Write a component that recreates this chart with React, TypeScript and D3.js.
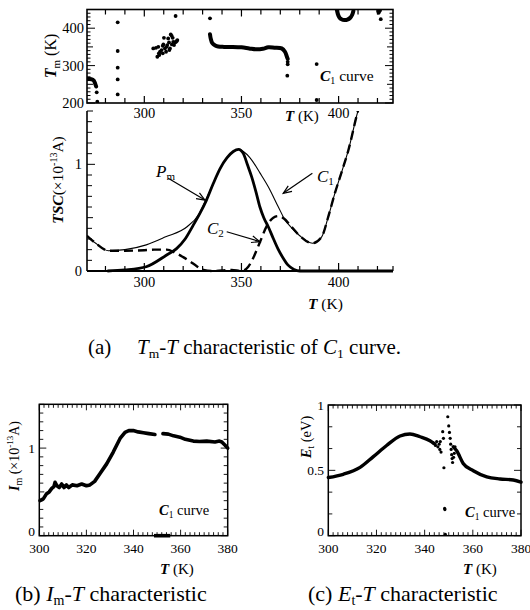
import React from "react";
import * as d3 from "d3";

// ---------- Panel (a) bottom: TSC curves ----------
const c1T = [270.5, 275, 281.5, 290, 301, 311, 322, 328, 331, 335.5, 339, 342.5, 345.8, 348.5, 351, 355.3, 359.5, 363.8, 369, 372.4, 375, 380, 386.5, 391.3, 394.7, 398.1, 401.6, 405, 409.8, 412];
const c1V = [0.33, 0.26, 0.19, 0.2, 0.245, 0.32, 0.415, 0.53, 0.64, 0.82, 0.96, 1.06, 1.12, 1.14, 1.12, 1.04, 0.92, 0.79, 0.6, 0.48, 0.42, 0.33, 0.26, 0.32, 0.51, 0.73, 0.93, 1.13, 1.49, 1.62];
const c2T = [270.5, 275, 281.5, 290, 300, 305, 311.5, 316, 320, 323.5, 327, 330.4, 335, 340, 345, 350, 353.5, 356, 359.5, 363, 366.4, 369, 372, 375, 380, 386.5, 391.3, 394.7, 398.1, 401.6, 405, 409.8, 412];
const c2V = [0.33, 0.26, 0.19, 0.19, 0.195, 0.2, 0.2, 0.17, 0.13, 0.09, 0.045, 0.01, 0.0, 0.005, 0.01, 0.0, 0.04, 0.12, 0.27, 0.42, 0.5, 0.515, 0.49, 0.43, 0.33, 0.26, 0.32, 0.51, 0.73, 0.93, 1.13, 1.49, 1.62];
const pmT = [281, 290, 301, 311.5, 316.6, 321, 325.2, 328.6, 332, 335.5, 339, 342.5, 345.8, 348.5, 351, 353, 355.3, 357.5, 359.5, 361.5, 363.8, 366.5, 369, 371.5, 374, 377, 380, 428];
const pmV = [0.0, 0.01, 0.04, 0.15, 0.21, 0.3, 0.43, 0.54, 0.665, 0.82, 0.96, 1.06, 1.12, 1.14, 1.1, 1.0, 0.88, 0.74, 0.6, 0.5, 0.415, 0.3, 0.2, 0.12, 0.055, 0.015, 0.0, 0.0];

// ---------- Panel (a) top: Tm-T ----------
const hookT = [270.5, 272, 273.5, 274.5, 275.2];
const hookV = [264, 264, 262, 255, 244];
const midT = [333.8, 334.2, 335, 336.5, 338, 341, 345, 350, 354, 357.8, 361, 363.8, 367, 370.7, 372.4, 373.3, 373.8];
const midV = [384, 372, 360, 354, 351, 350, 350, 349, 346, 343.5, 345, 349, 348, 346, 337, 325, 318];
const arcT = [399, 399.6, 400.5, 401.5, 403, 404.5, 406, 407, 407.6];
const arcV = [452, 438, 428, 424, 422, 423, 428, 436, 446];
const dotT = [275.5, 275.8, 286.3, 286.3, 286.3, 286.3, 286.3,
  304.6, 306.0, 307.2, 307.7, 306.7, 308.1, 308.9, 309.5, 309.8, 310.1, 310.6, 311.2, 311.5, 311.8, 312.3, 312.7, 313.2, 313.6, 314.1, 314.2, 314.6, 314.9, 315.3, 315.8, 316.3, 316.7, 317, 312.9, 309.5, 307.5,
  316.1, 333.8, 373.8, 373.8, 373.6, 388.7, 388.7, 420.3, 420.8, 421.3, 420.6, 421.7];
const dotV = [228.6, 203.5, 415.7, 339, 294.5, 263, 223,
  346, 347.6, 350.3, 328.1, 323.6, 337, 341.5, 353, 356.6, 374.3, 346, 337, 350.3, 354.8, 372.7, 362, 346, 383.4, 379.7, 356.6, 374.3, 363.6, 354.8, 362, 363.6, 365.5, 368.2, 341.5, 332.7, 332.7,
  432.6, 426.5, 310, 303.5, 273, 304, 208, 446, 444, 447, 441, 424];

// ---------- Panel (b): Im-T ----------
const im1T = [300.3, 301.7, 303.1, 304.2, 305.3, 306.2, 306.7, 307.5, 308.5, 309.5, 310.5, 311.5, 312.5, 314, 316, 318, 320, 321.5, 323.5, 325.8, 328.6, 331.4, 334.3, 336.4, 338, 339.9, 342, 344.2, 346.5, 349.1];
const im1V = [0.40, 0.42, 0.48, 0.5, 0.54, 0.56, 0.61, 0.57, 0.55, 0.59, 0.55, 0.58, 0.55, 0.58, 0.57, 0.59, 0.57, 0.58, 0.62, 0.71, 0.82, 0.955, 1.11, 1.18, 1.2, 1.2, 1.185, 1.175, 1.165, 1.155];
const im2T = [352.5, 354.8, 357, 359.7, 362, 365.4, 368, 371.1, 374.6, 376.5, 377.5, 379, 380];
const im2V = [1.165, 1.16, 1.14, 1.125, 1.1, 1.08, 1.075, 1.08, 1.07, 1.08, 1.07, 1.03, 1.0];
const im0T = [348.7, 355.6];
const im0V = [0.0, 0.0];

// ---------- Panel (c): Et-T ----------
const et1T = [300, 306.2, 313.2, 318.7, 324.2, 329.8, 333.9, 338.1, 342.2, 344.3];
const et1V = [0.445, 0.47, 0.523, 0.605, 0.69, 0.763, 0.778, 0.757, 0.727, 0.70];
const et2T = [351.9, 353.3, 356, 360.2, 365.8, 371.3, 376.8, 380];
const et2V = [0.68, 0.65, 0.553, 0.497, 0.45, 0.434, 0.426, 0.41];
const etDotT = [343.5, 344.5, 345, 345.5, 346, 346.3, 346.8, 346.5, 347.5, 347.8, 348, 348.4, 348.3, 349.6, 350, 350.3, 350.6, 350.8, 351, 351.2, 351.4, 351.6, 352, 352.3, 352.6, 348.6];
const etDotV = [0.71, 0.69, 0.72, 0.68, 0.70, 0.66, 0.64, 0.72, 0.796, 0.745, 0.52, 0.2, 0.21, 0.91, 0.84, 0.79, 0.745, 0.70, 0.66, 0.62, 0.59, 0.56, 0.6, 0.63, 0.68, 0.01];

// tick values
const aXMajor = [300, 350, 400];
const aTopYMajor = [200, 300, 400];
const aBotYLabels = [0, 1];
const bXLabels = [300, 320, 340, 360, 380];
const bYLabels = [0, 1];
const cYLabels = [0, 0.5, 1];

const FONT = "Liberation Serif, Times New Roman, serif";

const xA = d3.scaleLinear().domain([270.5, 428]).range([87, 393]);
const yTop = d3.scaleLinear().domain([200, 450]).range([103, 9.5]);
const yBot = d3.scaleLinear().domain([0, 1.5]).range([271, 111]);
const xB = d3.scaleLinear().domain([300, 380]).range([39.3, 227.7]);
const yB = d3.scaleLinear().domain([0, 1.5]).range([535.7, 404.3]);
const xC = d3.scaleLinear().domain([300, 380]).range([328.3, 521]);
const yC = d3.scaleLinear().domain([0, 1]).range([535.7, 405]);

function pathOf(xs: number[], ys: number[], sx: any, sy: any, curve: any = d3.curveMonotoneX) {
  const pts = xs.map((t, i) => [t, ys[i]] as [number, number]);
  return d3.line<[number, number]>().x((d) => sx(d[0])).y((d) => sy(d[1])).curve(curve)(pts) || "";
}

function Arrow({ x1, y1, x2, y2 }: { x1: number; y1: number; x2: number; y2: number }) {
  const a = Math.atan2(y2 - y1, x2 - x1);
  const L = 9, w = 0.38;
  const p1 = [x2 - L * Math.cos(a - w), y2 - L * Math.sin(a - w)];
  const p2 = [x2 - L * Math.cos(a + w), y2 - L * Math.sin(a + w)];
  return (
    <g stroke="#000" strokeWidth={1.2} fill="none">
      <line x1={x1} y1={y1} x2={x2} y2={y2} />
      <polyline points={`${p1[0]},${p1[1]} ${x2},${y2} ${p2[0]},${p2[1]}`} />
    </g>
  );
}

export default function App() {
  const tickA = d3.range(280, 421, 10);
  const topYT = d3.range(200, 451, 10);
  const botYT = d3.range(0, 1.51, 0.1);
  const bXT = d3.range(300, 380.1, 2);
  const bYT = d3.range(0, 1.51, 0.1);
  const cYT = d3.range(0, 1.001, 1 / 6);

  const xl = 87, xr = 393;

  return (
    <svg width={530} height={610} style={{ position: "absolute", left: 0, top: 0, background: "#fff", fontFamily: FONT }} fontFamily={FONT}>
      <defs>
        <clipPath id="clipTop"><rect x={87} y={9.5} width={306} height={93.5} /></clipPath>
        <clipPath id="clipBot"><rect x={87} y={111} width={306} height={162} /></clipPath>
      </defs>
      <rect width={530} height={610} fill="#fff" />

      {/* ===== Top panel (Tm) ===== */}
      <rect x={xl} y={9.5} width={xr - xl} height={93.5} fill="none" stroke="#000" strokeWidth={1.6} />
      {tickA.map((t) => {
        const len = t % 50 === 0 ? 7 : 5;
        return (
          <g key={"ta" + t} stroke="#000" strokeWidth={1.2}>
            <line x1={xA(t)} x2={xA(t)} y1={103} y2={103 - len} />
            <line x1={xA(t)} x2={xA(t)} y1={9.5} y2={9.5 + len} />
          </g>
        );
      })}
      {topYT.map((v) => {
        const len = v % 100 === 0 ? 8 : v % 50 === 0 ? 6 : 3.5;
        return (
          <g key={"ty" + v} stroke="#000" strokeWidth={1}>
            <line x1={xl} x2={xl + len} y1={yTop(v)} y2={yTop(v)} />
            <line x1={xr} x2={xr - len} y1={yTop(v)} y2={yTop(v)} />
          </g>
        );
      })}
      {aTopYMajor.map((v) => (
        <text key={"tyl" + v} x={84} y={yTop(v) + 5} fontSize={14.5} textAnchor="end">{v}</text>
      ))}
      {aXMajor.map((t) => (
        <text key={"txl" + t} x={xA(t)} y={118} fontSize={14.5} textAnchor="middle">{t}</text>
      ))}
      <text x={285} y={121} fontSize={15}>
        <tspan fontWeight="bold" fontStyle="italic">T</tspan> (K)
      </text>
      <text transform="translate(56,56) rotate(-90)" fontSize={16} textAnchor="middle">
        <tspan fontWeight="bold" fontStyle="italic">T</tspan>
        <tspan fontSize={11} dy={4}>m</tspan>
        <tspan dy={-4}> (K)</tspan>
      </text>
      <g clipPath="url(#clipTop)">
        <path d={pathOf(hookT, hookV, xA, yTop)} fill="none" stroke="#000" strokeWidth={4} strokeLinecap="round" />
        <path d={pathOf(midT, midV, xA, yTop, d3.curveCatmullRom)} fill="none" stroke="#000" strokeWidth={4} strokeLinecap="round" />
        <path d={pathOf(arcT, arcV, xA, yTop, d3.curveCatmullRom)} fill="none" stroke="#000" strokeWidth={4} strokeLinecap="round" />
        {dotT.map((t, i) => (
          <circle key={"d" + i} cx={xA(t)} cy={yTop(dotV[i])} r={1.9} fill="#000" />
        ))}
      </g>
      <text x={320} y={81} fontSize={15.5}>
        <tspan fontWeight="bold" fontStyle="italic">C</tspan>
        <tspan fontSize={10} dy={3}>1</tspan>
        <tspan dy={-3}> curve</tspan>
      </text>

      {/* ===== Bottom panel (TSC) ===== */}
      <line x1={xl} x2={xl} y1={111} y2={271} stroke="#000" strokeWidth={1.6} />
      <line x1={xl} x2={xr} y1={271} y2={271} stroke="#000" strokeWidth={2} />
      {botYT.map((v, i) => {
        const len = i % 10 === 0 ? 8 : i % 5 === 0 ? 6 : 5;
        return <line key={"by" + i} x1={xl} x2={xl + len} y1={yBot(v)} y2={yBot(v)} stroke="#000" strokeWidth={1} />;
      })}
      {tickA.concat([428]).map((t) => {
        const len = t % 50 === 0 ? 8 : 5;
        return <line key={"bx" + t} x1={xA(t)} x2={xA(t)} y1={271} y2={271 - len} stroke="#000" strokeWidth={1.2} />;
      })}
      {aBotYLabels.map((v) => (
        <text key={"byl" + v} x={82} y={yBot(v) + 5} fontSize={14.5} textAnchor="end">{v}</text>
      ))}
      {aXMajor.map((t) => (
        <text key={"bxl" + t} x={xA(t)} y={287} fontSize={14.5} textAnchor="middle">{t}</text>
      ))}
      <text x={308} y={309} fontSize={15.5}>
        <tspan fontWeight="bold" fontStyle="italic">T</tspan> (K)
      </text>
      <text transform="translate(63,180) rotate(-90)" fontSize={15.5} textAnchor="middle">
        <tspan fontWeight="bold" fontStyle="italic">TSC</tspan>
        <tspan>(×10</tspan>
        <tspan fontSize={10} dy={-6}>-13</tspan>
        <tspan dy={6}>A)</tspan>
      </text>
      <g clipPath="url(#clipBot)">
        <path d={pathOf(c1T, c1V, xA, yBot)} fill="none" stroke="#000" strokeWidth={1.1} />
        <path d={pathOf(pmT, pmV, xA, yBot)} fill="none" stroke="#000" strokeWidth={2.8} />
        <path d={pathOf(c2T, c2V, xA, yBot)} fill="none" stroke="#000" strokeWidth={2.4} strokeDasharray="9,5" />
      </g>
      {/* annotations */}
      <text x={156} y={177} fontSize={17} fontStyle="italic">P<tspan fontSize={11} fontStyle="normal" dy={3}>m</tspan></text>
      <Arrow x1={xA(312.3)} y1={yBot(0.87)} x2={xA(331.2)} y2={yBot(0.665)} />
      <text x={207} y={234} fontSize={17} fontStyle="italic">C<tspan fontSize={11} fontStyle="normal" dy={3}>2</tspan></text>
      <Arrow x1={xA(342.4)} y1={yBot(0.368)} x2={xA(359.5)} y2={yBot(0.275)} />
      <text x={317} y={182} fontSize={17} fontStyle="italic">C<tspan fontSize={11} fontStyle="normal" dy={3}>1</tspan></text>
      <Arrow x1={xA(386.5)} y1={yBot(0.916)} x2={xA(371.5)} y2={yBot(0.728)} />

      {/* caption (a) */}
      <text x={88} y={354} fontSize={21}>(a)</text>
      <text x={137} y={354} fontSize={21}>
        <tspan fontStyle="italic">T</tspan>
        <tspan fontSize={13.5} dy={4}>m</tspan>
        <tspan dy={-4}>-</tspan>
        <tspan fontStyle="italic">T</tspan>
        <tspan> characteristic of </tspan>
        <tspan fontStyle="italic">C</tspan>
        <tspan fontSize={13.5} dy={4}>1</tspan>
        <tspan dy={-4}> curve.</tspan>
      </text>

      {/* ===== Panel (b) ===== */}
      <rect x={xB(300)} y={yB(1.5)} width={xB(380) - xB(300)} height={yB(0) - yB(1.5)} fill="none" stroke="#000" strokeWidth={1.5} />
      {bXT.map((t, i) => {
        const len = i % 10 === 0 ? 6 : 3.5;
        return (
          <g key={"bxt" + i} stroke="#000" strokeWidth={0.9}>
            <line x1={xB(t)} x2={xB(t)} y1={yB(0)} y2={yB(0) - len} />
            <line x1={xB(t)} x2={xB(t)} y1={yB(1.5)} y2={yB(1.5) + len} />
          </g>
        );
      })}
      {bYT.map((v, i) => {
        const len = i % 10 === 0 ? 7 : i % 5 === 0 ? 5 : 4;
        return (
          <g key={"byt" + i} stroke="#000" strokeWidth={0.9}>
            <line x1={xB(300)} x2={xB(300) + len} y1={yB(v)} y2={yB(v)} />
            <line x1={xB(380)} x2={xB(380) - len} y1={yB(v)} y2={yB(v)} />
          </g>
        );
      })}
      {bXLabels.map((t) => (
        <text key={"bxl2" + t} x={xB(t)} y={553} fontSize={13.5} textAnchor="middle">{t}</text>
      ))}
      {bYLabels.map((v) => (
        <text key={"byl2" + v} x={35} y={yB(v) + (v === 0 ? 0.5 : 4.5)} fontSize={13.5} textAnchor="end">{v}</text>
      ))}
      <text x={160} y={574} fontSize={15}>
        <tspan fontWeight="bold" fontStyle="italic">T</tspan> (K)
      </text>
      <text transform="translate(19,456) rotate(-90)" fontSize={14} textAnchor="middle">
        <tspan fontWeight="bold" fontStyle="italic">I</tspan>
        <tspan fontSize={10} dy={3}>m</tspan>
        <tspan dy={-3}>  (×10</tspan>
        <tspan fontSize={9} dy={-6}>-13</tspan>
        <tspan dy={6}>A)</tspan>
      </text>
      <path d={pathOf(im1T, im1V, xB, yB, d3.curveLinear)} fill="none" stroke="#000" strokeWidth={3.6} strokeLinejoin="round" strokeLinecap="round" />
      <path d={pathOf(im2T, im2V, xB, yB, d3.curveLinear)} fill="none" stroke="#000" strokeWidth={3.6} strokeLinejoin="round" strokeLinecap="round" />
      <path d={pathOf(im0T, im0V, xB, yB, d3.curveLinear)} fill="none" stroke="#000" strokeWidth={3.6} />
      <text x={159} y={515} fontSize={14.5}>
        <tspan fontWeight="bold" fontStyle="italic">C</tspan>
        <tspan fontSize={9.5} dy={3}>1</tspan>
        <tspan dy={-3}> curve</tspan>
      </text>
      <text x={15} y={601} fontSize={22}>
        (b) <tspan fontStyle="italic">I</tspan>
        <tspan fontSize={14} dy={4}>m</tspan>
        <tspan dy={-4}>-</tspan>
        <tspan fontStyle="italic">T</tspan> characteristic
      </text>

      {/* ===== Panel (c) ===== */}
      <rect x={xC(300)} y={yC(1)} width={xC(380) - xC(300)} height={yC(0) - yC(1)} fill="none" stroke="#000" strokeWidth={1.5} />
      {bXT.map((t, i) => {
        const len = i % 10 === 0 ? 6 : 3.5;
        return (
          <g key={"cxt" + i} stroke="#000" strokeWidth={0.9}>
            <line x1={xC(t)} x2={xC(t)} y1={yC(0)} y2={yC(0) - len} />
            <line x1={xC(t)} x2={xC(t)} y1={yC(1)} y2={yC(1) + len} />
          </g>
        );
      })}
      {cYT.map((v, i) => {
        const len = i % 3 === 0 ? 7 : 4;
        return (
          <g key={"cyt" + i} stroke="#000" strokeWidth={0.9}>
            <line x1={xC(300)} x2={xC(300) + len} y1={yC(v)} y2={yC(v)} />
            <line x1={xC(380)} x2={xC(380) - len} y1={yC(v)} y2={yC(v)} />
          </g>
        );
      })}
      {bXLabels.map((t) => (
        <text key={"cxl" + t} x={xC(t)} y={553} fontSize={13.5} textAnchor="middle">{t}</text>
      ))}
      {cYLabels.map((v) => (
        <text key={"cyl" + v} x={324} y={yC(v) + (v === 0 ? 0.5 : 5)} fontSize={13.5} textAnchor="end">{v}</text>
      ))}
      <text x={463} y={574} fontSize={15}>
        <tspan fontWeight="bold" fontStyle="italic">T</tspan> (K)
      </text>
      <text transform="translate(311,437) rotate(-90)" fontSize={14.5} textAnchor="middle">
        <tspan fontWeight="bold" fontStyle="italic">E</tspan>
        <tspan fontSize={10} dy={3}>t</tspan>
        <tspan dy={-3}>  (eV)</tspan>
      </text>
      <path d={pathOf(et1T, et1V, xC, yC)} fill="none" stroke="#000" strokeWidth={3.4} strokeLinecap="round" />
      <path d={pathOf(et2T, et2V, xC, yC)} fill="none" stroke="#000" strokeWidth={3.4} strokeLinecap="round" />
      {etDotT.map((t, i) => (
        <circle key={"e" + i} cx={xC(t)} cy={yC(etDotV[i])} r={1.6} fill="#000" />
      ))}
      <text x={465} y={517} fontSize={14.5}>
        <tspan fontWeight="bold" fontStyle="italic">C</tspan>
        <tspan fontSize={9.5} dy={3}>1</tspan>
        <tspan dy={-3}> curve</tspan>
      </text>
      <text x={308} y={601} fontSize={22}>
        (c) <tspan fontStyle="italic">E</tspan>
        <tspan fontSize={14} dy={4}>t</tspan>
        <tspan dy={-4}>-</tspan>
        <tspan fontStyle="italic">T</tspan> characteristic
      </text>
    </svg>
  );
}
